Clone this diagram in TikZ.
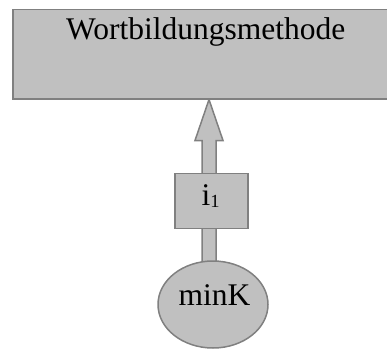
\documentclass[tikz,border=0pt]{standalone}
\usepackage{fontspec}
\setmainfont{Liberation Serif}
\usetikzlibrary{shapes.geometric,calc,backgrounds}
\definecolor{boxfill}{HTML}{C0C0C0}
\definecolor{boxline}{HTML}{808080}
\tikzset{
  shapebase/.style={draw=boxline, fill=boxfill, line width=1.5pt, inner sep=0pt},
  rectbox/.style={shapebase, rectangle},
  ellbox/.style={shapebase, ellipse},
  arrowbody/.style={draw=boxline, fill=boxfill, line width=1.5pt, line join=miter},
  lbl/.style={inner sep=0pt, anchor=base, font=\fontsize{31.5}{36}\selectfont},
}
\newcommand{\lowsub}[1]{{\fontsize{18.5}{20}\selectfont\raisebox{-2pt}{#1}}}
\begin{document}
\begin{tikzpicture}[x=1pt,y=1pt]
\useasboundingbox (0,0) rectangle (387,349);
\clip (0,0) rectangle (387,349);
% method box, running off the right edge
\node[rectbox, anchor=north west, minimum width=386, minimum height=89] (wb) at (12,340) {};
\node[lbl] (wbt) at ($(wb.north)+(0,-31)$) {Wortbildungsmethode};
% source ellipse
\node[ellbox, minimum width=110, minimum height=87] (mk) at (213,44.5) {};
\node[lbl] (mkt) at ($(mk.center)+(1.5,-0.5)$) {minK};
% fat arrow from the ellipse up to the method box, behind the shapes
\coordinate (foot) at (209,80);
\coordinate (tip) at (foot |- wb.south);
\begin{scope}[on background layer]
\draw[arrowbody] (foot) ++(-7,0) -- ($(tip)+(-7,-41)$) -- ($(tip)+(-14,-41)$)
  -- (tip) -- ($(tip)+(14,-41)$) -- ($(tip)+(7,-41)$) -- ($(foot)+(7,0)$);
\end{scope}
% interface box on the arrow
\node[rectbox, minimum width=73, minimum height=55] (i1) at (211.5,148.2) {};
\node[lbl] (i1t) at ($(i1.center)+(-1,-4.2)$) {i\lowsub{1}};
\end{tikzpicture}
\end{document}
